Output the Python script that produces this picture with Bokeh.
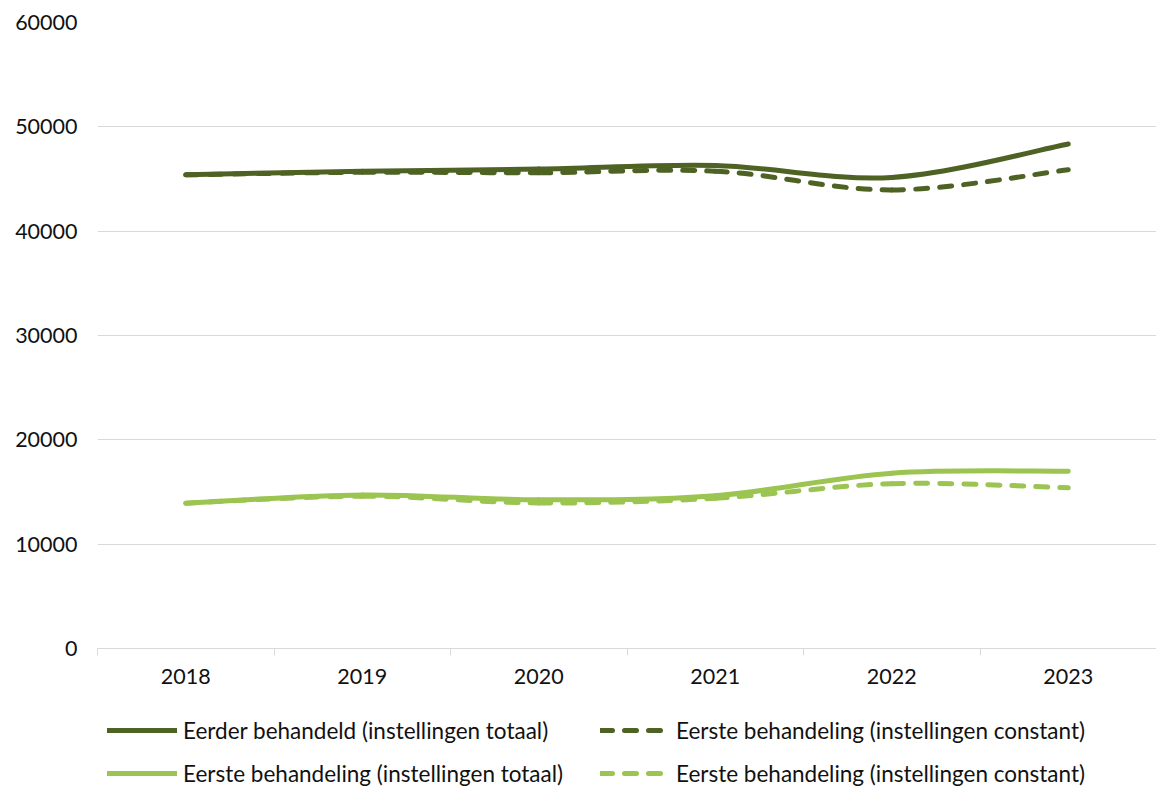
import numpy as np
from bokeh.plotting import figure
from bokeh.layouts import column
from bokeh.models import Range1d, FixedTicker, Legend, LegendItem
from bokeh.embed import file_html
from bokeh.resources import INLINE

# ---- data ----
years = ["2018", "2019", "2020", "2021", "2022", "2023"]
eerder_totaal = [45400, 45750, 45950, 46300, 45150, 48350]
eerder_constant = [45400, 45650, 45600, 45750, 43950, 45880]
eerste_totaal = [13930, 14720, 14250, 14650, 16800, 17000]
eerste_constant = [13930, 14600, 13950, 14400, 15800, 15400]
y_ticks = [0, 10000, 20000, 30000, 40000, 50000, 60000]

labels = [
    "Eerder behandeld (instellingen totaal)",
    "Eerste behandeling (instellingen constant)",
    "Eerste behandeling (instellingen totaal)",
    "Eerste behandeling (instellingen constant)",
]

DARK = "#4E6224"
LIGHT = "#9CC451"
FONT = "Lato"
TXT = "#111111"
FS = "21.5px"
LFS = "22.5px"
DASH = "12 12"

p = figure(
    frame_width=1059, frame_height=626,
    min_border_left=97, min_border_right=0, min_border_top=22, min_border_bottom=60,
    x_range=Range1d(-0.5, len(years) - 0.5), y_range=Range1d(0, 60000),
    output_backend="svg", toolbar_location=None,
)
p.outline_line_color = None
p.background_fill_color = "white"
p.border_fill_color = "white"


def smooth_segments(vals):
    xs = np.arange(len(vals), dtype=float)
    ys = np.asarray(vals, dtype=float)
    n = len(vals)
    d = dict(x0=[], y0=[], x1=[], y1=[], cx0=[], cy0=[], cx1=[], cy1=[])
    for i in range(n - 1):
        a = i - 1 if i > 0 else i
        b = i + 2 if i + 2 < n else i + 1
        d["x0"].append(xs[i]); d["y0"].append(ys[i])
        d["x1"].append(xs[i + 1]); d["y1"].append(ys[i + 1])
        d["cx0"].append(xs[i] + (xs[i + 1] - xs[a]) / 6)
        d["cy0"].append(ys[i] + (ys[i + 1] - ys[a]) / 6)
        d["cx1"].append(xs[i + 1] - (xs[b] - xs[i]) / 6)
        d["cy1"].append(ys[i + 1] - (ys[b] - ys[i]) / 6)
    return d


series = [
    (eerder_totaal, DARK, "solid"),
    (eerder_constant, DARK, DASH),
    (eerste_totaal, LIGHT, "solid"),
    (eerste_constant, LIGHT, DASH),
]

for vals, col, dash in series:
    d = smooth_segments(vals)
    p.bezier(x0="x0", y0="y0", x1="x1", y1="y1", cx0="cx0", cy0="cy0",
             cx1="cx1", cy1="cy1", source=d, line_color=col, line_width=5,
             line_dash=dash, line_cap="round")

# axes
p.xaxis.ticker = FixedTicker(ticks=list(range(len(years))),
                             minor_ticks=[i - 0.5 for i in range(len(years) + 1)])
p.xaxis.major_label_overrides = {i: y for i, y in enumerate(years)}
p.xaxis.axis_line_color = "#D9D9D9"
p.xaxis.major_tick_line_color = None
p.xaxis.minor_tick_line_color = "#D9D9D9"
p.xaxis.minor_tick_out = 7
p.xaxis.minor_tick_in = 0
p.xaxis.major_tick_out = 0
p.xaxis.major_label_standoff = 13
p.xaxis.major_label_text_font = FONT
p.xaxis.major_label_text_font_size = FS
p.xaxis.major_label_text_color = TXT

p.yaxis.ticker = FixedTicker(ticks=y_ticks)
p.yaxis.axis_line_color = None
p.yaxis.major_tick_line_color = None
p.yaxis.minor_tick_line_color = None
p.yaxis.major_label_standoff = 14
p.yaxis.major_label_text_font = FONT
p.yaxis.major_label_text_font_size = FS
p.yaxis.major_label_text_color = TXT
p.yaxis.formatter.use_scientific = False

p.xgrid.grid_line_color = None
p.ygrid.grid_line_color = "#D9D9D9"
p.ygrid.grid_line_width = 1

# legend figure below (its proxy lines lie outside its 0..1 ranges)
lg = figure(
    width=1156, height=81, x_range=Range1d(0, 1), y_range=Range1d(0, 1),
    min_border=0, output_backend="svg", toolbar_location=None,
)
lg.axis.visible = False
lg.grid.visible = False
lg.outline_line_color = None

items = []
for (vals, col, dash), lab in zip(series, labels):
    r = lg.line(x=list(range(len(years))), y=vals, line_color=col, line_width=5,
                line_dash=dash, line_cap="round")
    items.append(LegendItem(label=lab, renderers=[r]))

# column-major fill: reorder so rows read (0, 1) / (2, 3)
ordered = [items[0], items[2], items[1], items[3]]

legend = Legend(
    items=ordered, ncols=2, location=(10, 2),
    glyph_width=70, glyph_height=28, label_height=28, label_width=402,
    label_standoff=6, spacing=15, padding=0, margin=0,
    border_line_color=None, background_fill_alpha=0,
    label_text_font=FONT, label_text_font_size=LFS, label_text_color=TXT,
)
lg.add_layout(legend, "center")

open("out.html", "w").write(file_html(column(p, lg, spacing=0), INLINE))
